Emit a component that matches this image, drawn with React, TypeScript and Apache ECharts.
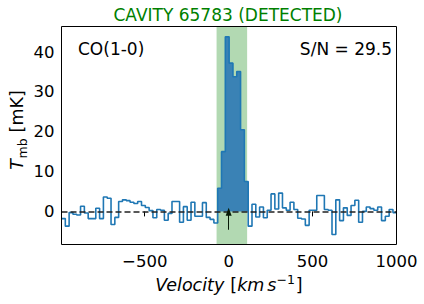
import React, { useEffect, useRef } from 'react';
import * as echarts from 'echarts';

// Spectral channel grid (km/s)
const CHANNEL_START = -996;
const CHANNEL_WIDTH = 22.7;

// Main-beam temperature per channel (mK)
const baselineBlue = [
  -1.8, -3.7, -0.3, -0.7, -0.9, 1.3, -0.4, -1.8, -1.8, 0.8,
  -1.8, 3.6, 3.3, -3.3, -1.5, 2.5, 2.9, 2.7, 2.3, 2.0,
  2.5, 1.5, 1.0, 0.2, -1.6, 0.5, 0.3, -2.2, -0.5, 2.5,
  2.5, -2.7, 1.2, -2.2, 2.3, -1.2, -1.2, 2.2, -1.5, -2.0,
  -2.9,
];
const lineEmission = [5.8, 15.0, 43.8, 37.2, 33.8, 35.1, 20.5, 7.5];
const baselineRed = [
  -3.7, 1.8, -1.4, 1.1, -1.6, 0.3, 4.4, 0.6, 4.6, 0.9,
  0.3, 2.3, 0.5, -1.7, -1.9, -3.5, 0.3, 0.3, 4.0, 4.0,
  0.5, 0.3, -5.8, 2.9, -2.3, 0.9, -1.0, 1.5, 2.8, -2.7,
  0.0, 1.1, 0.7, 0.3, 1.1, -2.3, -1.2, 0.5, -0.3,
];

const xTicks = [-500, 0, 500, 1000];
const yTicks = [0, 10, 20, 30, 40];
const xRange = [-996, 1000];
const yRange = [-8.3, 46.4];
const lineWindow = [-72, 110];
const arrowRange = [-4.6, -0.1];
const arrowVelocity = 0;

const titleText = 'CAVITY 65783 (DETECTED)';
const lineLabel = 'CO(1-0)';
const snrLabel = 'S/N = 29.5';

const FONT = "'DejaVu Sans', sans-serif";

const fmt = (v: number) => (v < 0 ? '\u2212' + Math.abs(v) : String(v));

let measureCtx: CanvasRenderingContext2D | null = null;
function tw(text: string, size: number, italic = false) {
  if (!measureCtx) measureCtx = document.createElement('canvas').getContext('2d');
  if (!measureCtx) return text.length * size * 0.6;
  measureCtx.font = `${italic ? 'italic ' : ''}${size}px 'DejaVu Sans'`;
  return measureCtx.measureText(text).width;
}

type Piece = { text: string; size: number; italic?: boolean; dy?: number; gap?: number };

function buildPieces(pieces: Piece[]) {
  const widths = pieces.map((p) => tw(p.text, p.size, p.italic));
  const total = pieces.reduce((s, p, i) => s + widths[i] + (p.gap || 0), 0);
  let x = -total / 2;
  return pieces.map((p, i) => {
    x += p.gap || 0;
    const el = {
      type: 'text',
      x,
      y: p.dy || 0,
      style: {
        text: p.text,
        fontSize: p.size,
        fontFamily: FONT,
        fontStyle: p.italic ? 'italic' : 'normal',
        fill: '#000',
        align: 'left',
        verticalAlign: 'middle',
      },
    };
    x += widths[i];
    return el;
  });
}

export default function App() {
  const ref = useRef<HTMLDivElement>(null);

  useEffect(() => {
    if (!ref.current) return;
    const chart = echarts.init(ref.current, undefined, { renderer: 'svg' });

    const tmb = [...baselineBlue, ...lineEmission, ...baselineRed];
    const edge = (i: number) => CHANNEL_START + i * CHANNEL_WIDTH;
    const spectrum = tmb.map((v, i) => [edge(i), v]);
    spectrum.push([edge(tmb.length), tmb[tmb.length - 1]]);
    const first = baselineBlue.length;
    const fill = lineEmission.map((v, j) => [edge(first + j), v]);
    fill.push([edge(first + lineEmission.length), lineEmission[lineEmission.length - 1]]);

    const xLabel = buildPieces([
      { text: 'Velocity', size: 17.5, italic: true },
      { text: '[', size: 17.5, gap: 6 },
      { text: 'km', size: 17.5, italic: true },
      { text: 's', size: 17.5, italic: true, gap: 3 },
      { text: '\u22121', size: 12.5, dy: -6 },
      { text: ']', size: 17.5, gap: 1 },
    ]);
    const yLabel = buildPieces([
      { text: 'T', size: 17.5, italic: true },
      { text: 'mb', size: 12.5, dy: 5.5, gap: 0.5 },
      { text: '[mK]', size: 17.5, gap: 6 },
    ]);

    chart.setOption({
      animation: false,
      grid: { left: 61.5, top: 26.5, width: 335, height: 218, containLabel: false },
      xAxis: {
        type: 'value',
        min: xRange[0],
        max: xRange[1],
        splitLine: { show: false },
        axisLine: { show: false },
        axisTick: { show: true, length: 5, lineStyle: { color: '#000', width: 1 }, customValues: xTicks },
        axisLabel: { customValues: xTicks, formatter: fmt, fontSize: 16.5, color: '#000', fontFamily: FONT, margin: 8 },
      },
      yAxis: {
        type: 'value',
        min: yRange[0],
        max: yRange[1],
        splitLine: { show: false },
        axisLine: { show: false },
        axisTick: { show: true, length: 5, lineStyle: { color: '#000', width: 1 }, customValues: yTicks },
        axisLabel: { customValues: yTicks, formatter: fmt, fontSize: 16.5, color: '#000', fontFamily: FONT, margin: 7 },
      },
      series: [
        {
          type: 'line',
          data: spectrum,
          step: 'end',
          symbol: 'none',
          silent: true,
          z: 1,
          lineStyle: { opacity: 0 },
          markArea: {
            silent: true,
            itemStyle: { color: '#b2d9b2' },
            data: [[{ xAxis: lineWindow[0] }, { xAxis: lineWindow[1] }]],
          },
        },
        {
          type: 'line',
          data: fill,
          step: 'end',
          symbol: 'none',
          silent: true,
          z: 2,
          lineStyle: { width: 0, opacity: 0 },
          areaStyle: { color: '#3a82b5', opacity: 1, origin: 0 },
        },
        {
          type: 'line',
          data: spectrum,
          step: 'end',
          symbol: 'none',
          silent: true,
          z: 3,
          lineStyle: { color: '#1f77b4', width: 1.6 },
        },
        {
          type: 'line',
          data: [],
          silent: true,
          z: 4,
          markLine: {
            silent: true,
            symbol: ['none', 'none'],
            label: { show: false },
            lineStyle: { type: [6, 3], color: '#222', width: 1.7 },
            data: [{ yAxis: 0 }],
          },
        },
        {
          type: 'line',
          data: [],
          silent: true,
          z: 5,
          markLine: {
            silent: true,
            symbol: ['none', 'triangle'],
            symbolSize: [6, 8],
            label: { show: false },
            lineStyle: { type: 'solid', color: '#061a06', width: 1 },
            itemStyle: { color: '#061a06' },
            data: [[{ coord: [arrowVelocity, arrowRange[0]] }, { coord: [arrowVelocity, arrowRange[1]] }]],
          },
        },
      ],
      graphic: [
        {
          type: 'rect',
          z: 100,
          silent: true,
          shape: { x: 61.5, y: 26.5, width: 335, height: 218 },
          style: { fill: 'none', stroke: '#000', lineWidth: 1 },
        },
        {
          type: 'text',
          x: 228,
          y: 14.5,
          z: 100,
          style: { text: titleText, fill: '#008000', fontSize: 17, fontFamily: FONT, align: 'center', verticalAlign: 'middle' },
        },
        {
          type: 'text',
          x: 78,
          y: 49,
          z: 100,
          style: { text: lineLabel, fill: '#000', fontSize: 17, fontFamily: FONT, align: 'left', verticalAlign: 'middle' },
        },
        {
          type: 'text',
          x: 392,
          y: 49,
          z: 100,
          style: { text: snrLabel, fill: '#000', fontSize: 17, fontFamily: FONT, align: 'right', verticalAlign: 'middle' },
        },
        { type: 'group', x: 229, y: 285, z: 100, children: xLabel },
        { type: 'group', x: 17, y: 130, rotation: Math.PI / 2, z: 100, children: yLabel },
      ],
    });

    return () => chart.dispose();
  }, []);

  return <div ref={ref} style={{ position: 'absolute', left: 0, top: 0, width: 424, height: 304 }} />;
}
